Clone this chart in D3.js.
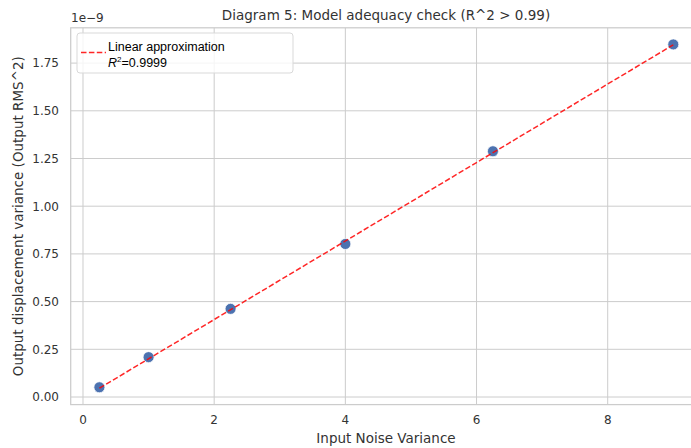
<!DOCTYPE html>
<html>
<head>
<meta charset="utf-8">
<script src="https://cdn.jsdelivr.net/npm/d3@7"></script>
<style>
  body { margin: 0; background: #fff; }
  svg { display: block; }
</style>
</head>
<body>
<svg width="691" height="448"></svg>
<script>
// measured points (y in units of 1e-9)
const noiseVar = [0.25, 1, 2.25, 4, 6.25, 9];
const outVar = [0.051, 0.209, 0.462, 0.802, 1.288, 1.848];
// fitted line endpoints
const fitX = [0.25, 9];
const fitY = [0.046, 1.846];
const xTicks = [0, 2, 4, 6, 8];
const yTicks = [0, 0.25, 0.5, 0.75, 1.0, 1.25, 1.5, 1.75];

const svg = d3.select('svg');
const margin = { left: 70.7, right: 702, top: 27.8, bottom: 404.6 };

const x = d3.scaleLinear().domain([-0.1875, 9.4375]).range([margin.left, margin.right]);
const y = d3.scaleLinear().domain([-0.0398, 1.935]).range([margin.bottom, margin.top]);

const font = 'DejaVu Sans, sans-serif';
const grid = '#cccccc';

// grid lines
svg.append('g').selectAll('line').data(xTicks).enter().append('line')
  .attr('x1', d => x(d)).attr('x2', d => x(d))
  .attr('y1', margin.top).attr('y2', margin.bottom)
  .attr('stroke', grid).attr('stroke-width', 1);
svg.append('g').selectAll('line').data(yTicks).enter().append('line')
  .attr('x1', margin.left).attr('x2', margin.right)
  .attr('y1', d => y(d)).attr('y2', d => y(d))
  .attr('stroke', grid).attr('stroke-width', 1);

// spines
svg.append('rect')
  .attr('x', margin.left).attr('y', margin.top)
  .attr('width', margin.right - margin.left).attr('height', margin.bottom - margin.top)
  .attr('fill', 'none').attr('stroke', grid).attr('stroke-width', 1.25);

// tick labels
svg.append('g').selectAll('text').data(xTicks).enter().append('text')
  .attr('x', d => x(d)).attr('y', 424)
  .attr('text-anchor', 'middle')
  .style('font', `12px ${font}`).attr('fill', '#333')
  .text(d => d);
svg.append('g').selectAll('text').data(yTicks).enter().append('text')
  .attr('x', 59).attr('y', d => y(d) + 4.3)
  .attr('text-anchor', 'end')
  .style('font', `12px ${font}`).attr('fill', '#333')
  .text(d => d.toFixed(2));

// offset text
svg.append('text').attr('x', 71).attr('y', 22)
  .style('font', `12px ${font}`).attr('fill', '#333')
  .text('1e\u22129');

// points
const pts = noiseVar.map((v, i) => ({ x: v, y: outVar[i] }));
svg.append('g').selectAll('circle').data(pts).enter().append('circle')
  .attr('cx', d => x(d.x)).attr('cy', d => y(d.y)).attr('r', 5.5)
  .attr('fill', '#4c72b0').attr('stroke', '#fff').attr('stroke-width', 0.75);

// fit line
const line = d3.line().x(d => x(d[0])).y(d => y(d[1]));
svg.append('path')
  .datum(fitX.map((v, i) => [v, fitY[i]]))
  .attr('d', line)
  .attr('fill', 'none').attr('stroke', '#ff0000').attr('stroke-opacity', 0.85)
  .attr('stroke-width', 1.5).attr('stroke-dasharray', '5.5,2.4');

// title and axis labels
svg.append('text').attr('x', 386).attr('y', 20).attr('text-anchor', 'middle')
  .style('font', `13.5px ${font}`).attr('fill', '#333')
  .text('Diagram 5: Model adequacy check (R^2 > 0.99)');
svg.append('text').attr('x', 386).attr('y', 443).attr('text-anchor', 'middle')
  .style('font', `13.5px ${font}`).attr('fill', '#333')
  .text('Input Noise Variance');
svg.append('text')
  .attr('transform', `translate(23, ${(margin.top + margin.bottom) / 2}) rotate(-90)`)
  .attr('text-anchor', 'middle')
  .style('font', `13.5px ${font}`).attr('fill', '#333')
  .text('Output displacement variance (Output RMS^2)');

// legend
const lg = svg.append('g');
lg.append('rect').attr('x', 77).attr('y', 33).attr('width', 216).attr('height', 40)
  .attr('rx', 3).attr('fill', '#fff').attr('fill-opacity', 0.8)
  .attr('stroke', '#d9d9d9').attr('stroke-width', 1);
lg.append('line').attr('x1', 81).attr('x2', 106).attr('y1', 52.5).attr('y2', 52.5)
  .attr('stroke', '#ff0000').attr('stroke-opacity', 0.85)
  .attr('stroke-width', 1.5).attr('stroke-dasharray', '5.5,2.4');
const lf = 'Liberation Sans, Arial, sans-serif';
lg.append('text').attr('x', 108).attr('y', 50.5)
  .style('font', `12.5px ${lf}`).attr('fill', '#000')
  .text('Linear approximation');
const t2 = lg.append('text').attr('x', 108).attr('y', 66.5)
  .style('font', `12.5px ${lf}`).attr('fill', '#000');
t2.append('tspan').style('font-style', 'italic').text('R');
t2.append('tspan').attr('dy', -5).style('font-size', '8px').text('2');
t2.append('tspan').attr('dy', 5).text('=0.9999');
</script>
</body>
</html>
